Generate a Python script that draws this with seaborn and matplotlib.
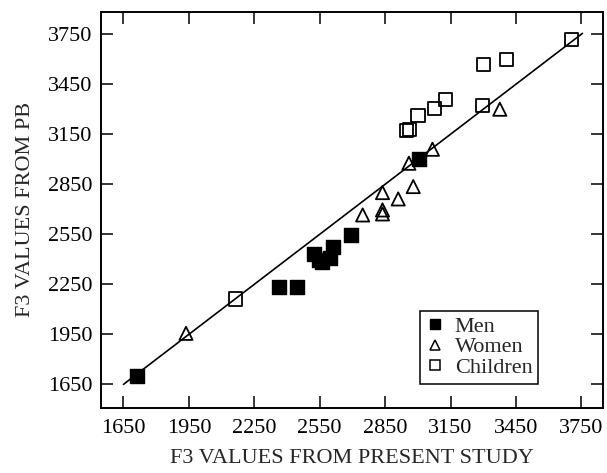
import matplotlib
matplotlib.use("Agg")
import matplotlib.pyplot as plt
from matplotlib.lines import Line2D
import seaborn as sns

# F3 values (Hz): present study (x) vs PB (y)
men_x = [1710, 2363, 2444, 2525, 2545, 2560, 2598, 2612, 2692, 3005]
men_y = [1700, 2232, 2232, 2432, 2398, 2386, 2408, 2476, 2546, 3002]

women_x = [1937, 2747, 2838, 2838, 2838, 2910, 2979, 2959, 3067, 3376]
women_y = [1956, 2666, 2800, 2696, 2672, 2762, 2836, 2976, 3060, 3300]

children_x = [2162, 2948, 2960, 3001, 3078, 3128, 3296, 3302, 3406, 3704]
children_y = [2162, 3170, 3180, 3260, 3306, 3356, 3320, 3566, 3600, 3720]

# identity line ends
line_ends = [1650, 3755]

ticks = [1650, 1950, 2250, 2550, 2850, 3150, 3450, 3750]

sns.set_style("ticks")
plt.rcParams["font.family"] = ["Liberation Serif", "DejaVu Serif"]

fig = plt.figure(figsize=(6.07, 4.73), dpi=100)
ax = fig.add_axes([0.166, 0.138, 0.827, 0.837])

ax.plot(line_ends, line_ends, color="black", lw=1.2, zorder=1)

msize = 90
sns.scatterplot(x=men_x, y=men_y, marker="s", color="black", edgecolor="black",
                s=msize, linewidth=1.0, ax=ax, zorder=3)
sns.scatterplot(x=women_x, y=women_y, marker="^", facecolors="none", edgecolor="black",
                s=msize, linewidth=1.3, ax=ax, zorder=3)
sns.scatterplot(x=children_x, y=children_y, marker="s", facecolors="none", edgecolor="black",
                s=msize, linewidth=1.3, ax=ax, zorder=3)

ax.set_xlim(1546, 3848)
ax.set_ylim(1510, 3884)
ax.set_xticks(ticks)
ax.set_yticks(ticks)
ax.tick_params(direction="in", top=True, right=True, length=8.5, width=1.1,
               labelsize=16, pad=6, colors="black")
ax.tick_params(axis="x", pad=8)
for sp in ax.spines.values():
    sp.set_linewidth(1.4)
    sp.set_color("black")

ax.set_xlabel("F3 VALUES FROM PRESENT STUDY", fontsize=16, labelpad=8)
ax.set_ylabel("F3 VALUES FROM PB", fontsize=16, labelpad=9)

handles = [
    Line2D([], [], marker="s", ls="none", color="black", markersize=7),
    Line2D([], [], marker="^", ls="none", markerfacecolor="none", markeredgecolor="black",
           markersize=7, markeredgewidth=1.1),
    Line2D([], [], marker="s", ls="none", markerfacecolor="none", markeredgecolor="black",
           markersize=7, markeredgewidth=1.1),
]
leg = ax.legend(handles, ["Men", "Women", "Children"], loc="upper right",
                bbox_to_anchor=(0.871, 0.245), fontsize=16, frameon=True,
                fancybox=False, edgecolor="black", framealpha=1,
                handlelength=0.8, handletextpad=0.5, labelspacing=0.0,
                borderpad=0.25, borderaxespad=0)
leg.get_frame().set_linewidth(1.1)

fig.savefig("out.png", dpi=100)
